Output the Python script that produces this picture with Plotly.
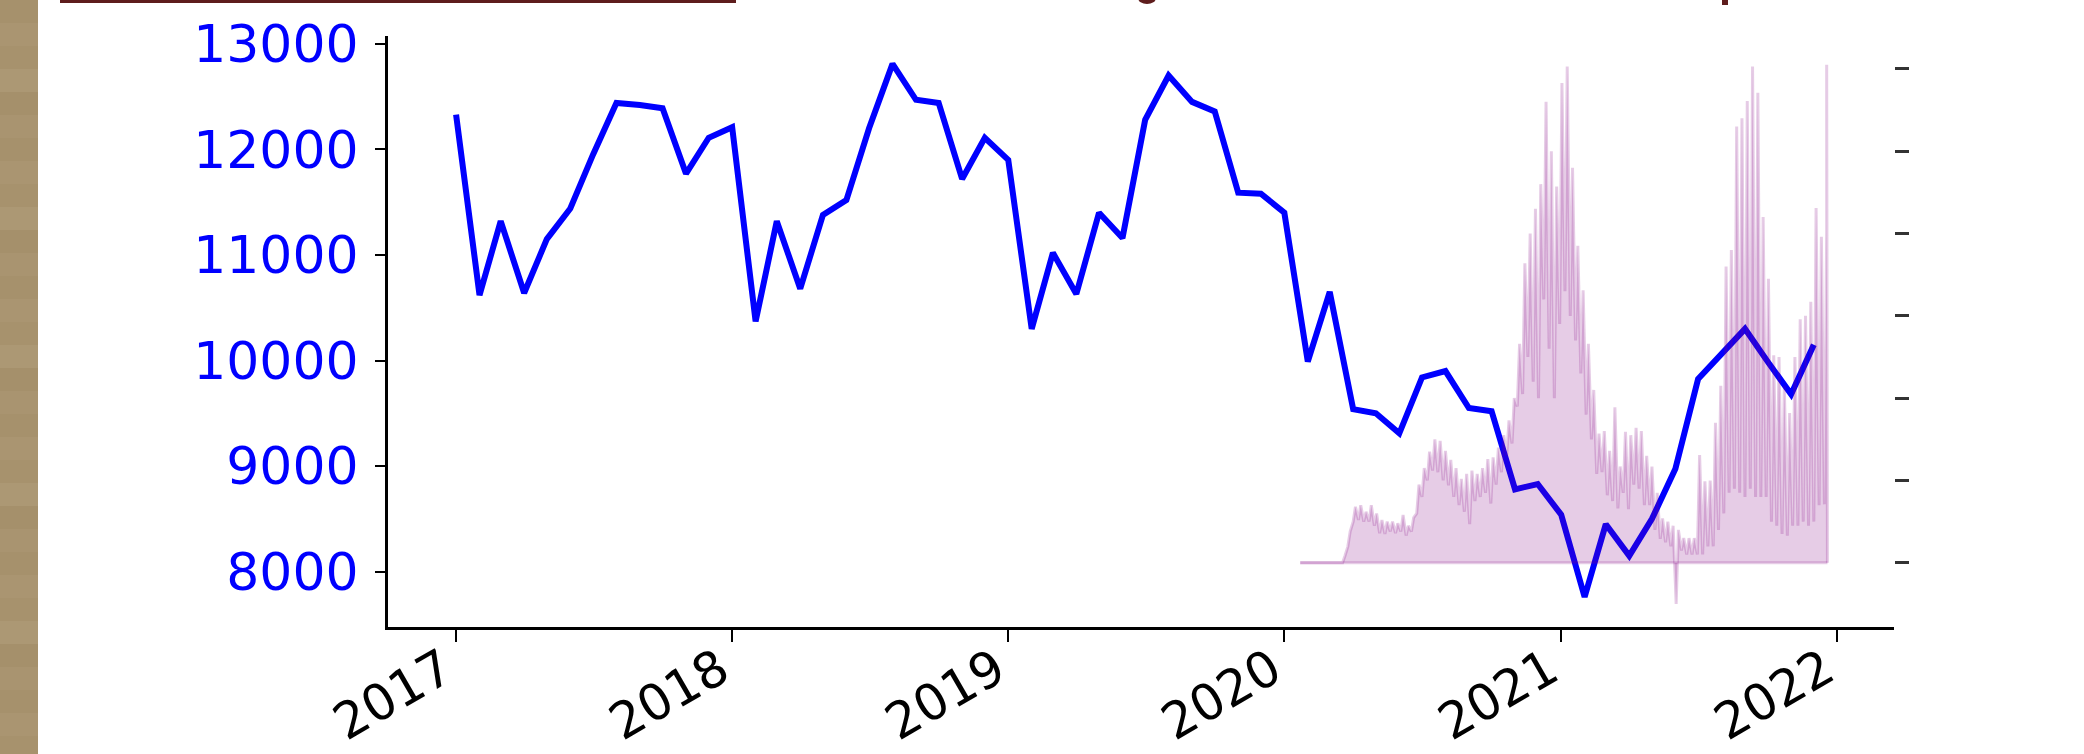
import pandas as pd
import plotly.graph_objects as go

# ---------------- data ----------------
month_start = "2017-01-01"
n_months = 60
monthly_values = [
    12330, 10620, 11320, 10640, 11150, 11440, 11950, 12440, 12420, 12390, 11770, 12110,
    12210, 10370, 11320, 10680, 11380, 11520, 12200, 12810, 12470, 12440, 11720, 12110,
    11900, 10300, 11020, 10630, 11400, 11160, 12280, 12700, 12450, 12360, 11590, 11580,
    11400, 9990, 10650, 9540, 9500, 9310, 9840, 9900, 9550, 9520, 8780, 8830,
    8540, 7760, 8450, 8150, 8500, 8975, 9825, 10060, 10300, 9990, 9680, 10150,
]

week_start = "2020-01-22"
# weekly low (trough) and high (peak) of the daily series, right-axis units
area_low = [
    0, 0, 0, 0, 0, 0, 0, 0, 0, 0.2,
    0.5, 0.52, 0.5, 0.5, 0.45, 0.36, 0.35, 0.38, 0.36, 0.38,
    0.33, 0.38, 0.6, 0.8, 1.0, 1.12, 1.1, 1.0, 0.94, 0.8,
    0.7, 0.62, 0.47, 0.75, 0.8, 0.85, 0.72, 0.95, 1.1, 1.3,
    1.45, 1.9, 2.05, 2.5, 2.2, 2.0, 3.2, 2.6, 2.0, 2.9,
    3.3, 3.0, 2.7, 2.3, 1.8, 1.5, 1.08, 1.1, 0.82, 0.75,
    0.66, 0.85, 0.65, 0.95, 0.9, 0.7, 0.7, 0.4, 0.29, 0.25,
    0.2, -0.5, 0.15, 0.1, 0.1, 0.1, 0.1, 0.2, 0.2, 0.4,
    0.6, 0.85, 0.9, 0.85, 0.8, 0.9, 0.8, 0.8, 0.8, 0.5,
    0.45, 0.35, 0.33, 0.45, 0.45, 0.5, 0.45, 0.5, 0.7, 0.71,
]
area_high = [
    0, 0, 0, 0, 0, 0, 0, 0, 0.08, 0.38,
    0.68, 0.7, 0.62, 0.7, 0.6, 0.52, 0.5, 0.5, 0.48, 0.58,
    0.45, 0.55, 0.95, 1.15, 1.35, 1.5, 1.48, 1.36, 1.25, 1.15,
    1.02, 1.08, 1.12, 1.08, 1.15, 1.26, 1.28, 1.4, 1.55, 1.73,
    2.0, 2.66, 3.64, 4.0, 4.3, 4.6, 5.6, 5.0, 4.57, 5.83,
    6.03, 4.8, 3.85, 3.31, 2.66, 2.1, 1.57, 1.6, 1.36, 1.89,
    1.17, 1.59, 1.55, 1.64, 1.6, 1.3, 1.17, 0.85, 0.54, 0.5,
    0.45, 0.4, 0.3, 0.3, 0.3, 1.31, 0.99, 1.0, 1.7, 2.15,
    3.6, 3.8, 5.3, 5.4, 5.61, 6.03, 5.71, 4.2, 3.45, 2.52,
    2.5, 2.15, 1.82, 2.5, 2.96, 3.0, 3.17, 4.31, 3.96, 4.05,
]
last_day = "2021-12-18"
last_value = 6.05
area_end = "2021-12-19"

year_ticks = ["2017", "2018", "2019", "2020", "2021", "2022"]
left_ticks = [8000, 9000, 10000, 11000, 12000, 13000]
right_ticks = [0, 1, 2, 3, 4, 5, 6]

# ---------------- build ----------------
months = pd.date_range(month_start, periods=n_months, freq="MS")
weeks = pd.date_range(week_start, periods=len(area_low), freq="7D")

zx, zy = [], []
for d, lo, hi in zip(weeks, area_low, area_high):
    zx += [d, d + pd.Timedelta(days=3)]
    zy += [lo, hi]
zx += [pd.Timestamp(last_day), pd.Timestamp(area_end)]
zy += [last_value, 0]

W, H = 2084, 754
L, R, T, B = 388, 190, 36, 127
PW, PH = W - L - R, H - T - B


def fx(p):
    return (p - L) / PW


def fy(p):
    return (H - B - p) / PH


fig = go.Figure()
fig.add_trace(go.Scatter(x=months, y=monthly_values, mode="lines",
                         line=dict(color="#0000ff", width=6), yaxis="y",
                         hoverinfo="skip", showlegend=False))
fig.add_trace(go.Scatter(x=zx, y=zy, mode="lines", fill="tozeroy",
                         fillcolor="rgba(128,0,128,0.2)",
                         line=dict(color="rgba(128,0,128,0.2)", width=3),
                         yaxis="y2", hoverinfo="skip", showlegend=False))
fig.add_trace(go.Scatter(x=[weeks[0], pd.Timestamp(area_end)], y=[0, 0], mode="lines",
                         line=dict(color="rgba(128,0,128,0.2)", width=3),
                         yaxis="y2", hoverinfo="skip", showlegend=False))

shapes = []
# textured tan strip on the left
shapes.append(dict(type="rect", xref="paper", yref="paper",
                   x0=fx(0), x1=fx(38), y0=fy(H + 5), y1=fy(-5),
                   fillcolor="#a8936e", line=dict(width=0), layer="below"))
band_cols = ["#a6916c", "#aa9571", "#a7926d", "#ac9874", "#a5906b", "#a99470"]
band_h = 23
y = 0
k = 0
while y < H:
    shapes.append(dict(type="rect", xref="paper", yref="paper",
                       x0=fx(0), x1=fx(38), y0=fy(y + band_h + 1), y1=fy(y),
                       fillcolor=band_cols[k % len(band_cols)], line=dict(width=0), layer="below"))
    y += band_h
    k += 1
# dark red rule at the top and cropped title descenders
shapes.append(dict(type="rect", xref="paper", yref="paper", x0=fx(60), x1=fx(736),
                   y0=fy(3), y1=fy(-2), fillcolor="#5e1d1d", line=dict(width=0)))
shapes.append(dict(type="circle", xref="paper", yref="paper", x0=fx(1138), x1=fx(1156),
                   y0=fy(4), y1=fy(-8), fillcolor="#5e1d1d", line=dict(width=0)))
shapes.append(dict(type="rect", xref="paper", yref="paper", x0=fx(1722), x1=fx(1728),
                   y0=fy(5), y1=fy(-2), fillcolor="#5e1d1d", line=dict(width=0)))

fig.update_layout(
    width=W, height=H,
    margin=dict(l=L, r=R, t=T, b=B, pad=0, autoexpand=False),
    paper_bgcolor="white", plot_bgcolor="white",
    font=dict(family="DejaVu Sans"),
    showlegend=False,
    shapes=shapes,
    xaxis=dict(type="date", range=["2016-10-03", "2022-03-17"], automargin=False,
               tickvals=[f"{y}-01-01" for y in year_ticks], ticktext=year_ticks,
               tickangle=-30, tickfont=dict(size=50, color="black", family="DejaVu Sans"),
               ticklabelshift=-12, ticklabelstandoff=-21,
               ticks="outside", ticklen=12, tickwidth=2, tickcolor="black",
               showline=True, linewidth=3, linecolor="black",
               showgrid=False, zeroline=False),
    yaxis=dict(range=[7476, 13074], tickvals=left_ticks, automargin=False,
               ticktext=[str(v) for v in left_ticks],
               tickfont=dict(size=52, color="#0000ff", family="DejaVu Sans"),
               ticks="outside", ticklen=10, tickwidth=2, tickcolor="black",
               ticklabelstandoff=6,
               showline=True, linewidth=3, linecolor="black",
               showgrid=False, zeroline=False),
    yaxis2=dict(overlaying="y", side="right", range=[-0.78, 6.40], tickvals=right_ticks,
                automargin=False,
                showticklabels=False, ticks="outside", ticklen=14, tickwidth=3,
                tickcolor="#333333", showline=False, showgrid=False, zeroline=False),
)

fig.write_html("out.html")
